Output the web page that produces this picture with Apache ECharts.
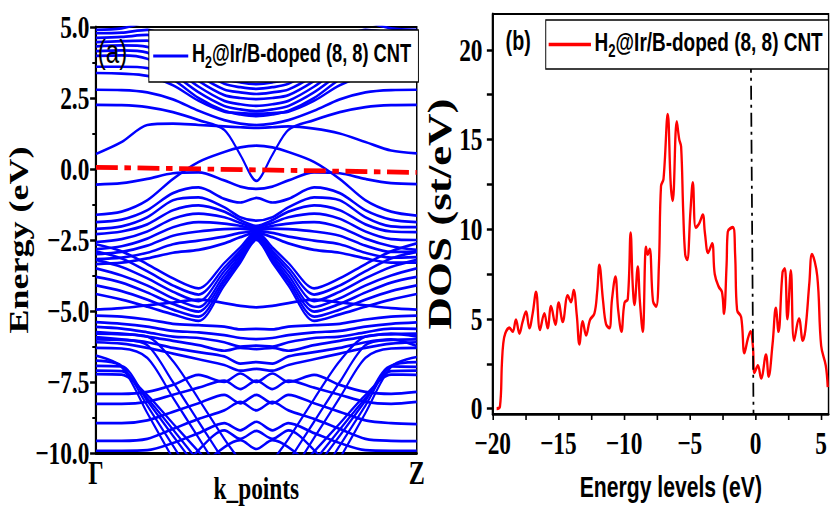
<!DOCTYPE html>
<html><head><meta charset="utf-8">
<script src="https://cdn.jsdelivr.net/npm/echarts@6/dist/echarts.min.js"></script>
<style>
html,body{margin:0;padding:0;width:831px;height:508px;overflow:hidden;background:#fff}
#c{width:1139px;height:508px;transform:scaleX(0.7296);transform-origin:0 0}
</style></head><body><div id="c"></div>
<script>
// ---- panel (a): band structure, k from Γ (0) to Z (1) ----
const kPoints = [0,0.08,0.16,0.24,0.32,0.40,0.45,0.50,0.55,0.60,0.68,0.76,0.84,0.92,1.0];
const kTickLabels = ['Γ','Z'];
const energyTicks = [5.0,2.5,0.0,-2.5,-5.0,-7.5,-10.0];

const conductionBands = [
 [4.9,4.95,5.2,5.5,5.6,5.6,5.6,5.6,5.6,5.6,5.6,5.5,5.2,4.95,4.9],
 [4.78,4.8,4.9,4.5,3.75,3.2,3.05,2.99,3.05,3.2,3.75,4.5,4.9,4.8,4.78],
 [4.62,4.65,4.72,4.25,3.5,3.0,2.88,2.82,2.88,3.0,3.5,4.25,4.72,4.65,4.62],
 [4.47,4.5,4.52,4.0,3.3,2.8,2.7,2.64,2.7,2.8,3.3,4.0,4.52,4.5,4.47],
 [4.32,4.35,4.3,3.75,3.1,2.6,2.5,2.46,2.5,2.6,3.1,3.75,4.3,4.35,4.32],
 [4.15,4.18,4.1,3.55,2.9,2.4,2.28,2.22,2.28,2.4,2.9,3.55,4.1,4.18,4.15],
 [3.98,4.0,3.88,3.35,2.7,2.22,2.1,2.04,2.1,2.22,2.7,3.35,3.88,4.0,3.98],
 [3.6,3.6,3.55,3.15,2.5,2.05,1.92,1.86,1.92,2.05,2.5,3.15,3.55,3.6,3.6],
 [3.38,3.36,3.28,2.95,2.4,2.02,1.97,1.95,1.97,2.02,2.4,2.95,3.28,3.36,3.38],
 [2.79,2.78,2.7,2.45,2.05,1.72,1.6,1.55,1.6,1.72,2.05,2.45,2.7,2.78,2.79],
 [2.26,2.25,2.18,2.0,1.72,1.38,0.5,-0.42,0.5,1.38,1.72,2.0,2.18,2.25,2.26],
 [0.53,0.95,1.55,1.6,1.55,1.5,1.47,1.45,1.47,1.5,1.42,1.25,0.95,0.65,0.55]
];
const nearGapBands = [
 [-1.61,-1.5,-1.1,-0.35,0.25,0.6,0.76,0.82,0.76,0.6,0.25,-0.35,-1.1,-1.5,-1.64],
 [-0.55,-0.5,-0.35,-0.15,-0.12,-0.4,-0.62,-0.7,-0.62,-0.4,-0.12,-0.15,-0.35,-0.5,-0.53],
 [-1.87,-1.78,-1.45,-0.85,-0.65,-1.05,-1.18,-1.02,-1.18,-1.05,-0.65,-0.85,-1.45,-1.78,-1.87],
 [-2.11,-2.02,-1.7,-1.1,-1.0,-1.35,-1.7,-1.82,-1.7,-1.35,-1.0,-1.1,-1.7,-2.02,-2.05],
 [-2.29,-2.2,-1.95,-1.45,-1.28,-1.5,-1.8,-2.0,-1.8,-1.5,-1.28,-1.45,-1.95,-2.2,-2.22],
 [-2.57,-2.47,-2.2,-1.75,-1.57,-1.7,-1.9,-2.05,-1.9,-1.7,-1.57,-1.75,-2.2,-2.47,-2.5],
 [-2.82,-2.72,-2.45,-2.05,-1.87,-1.92,-2.0,-2.1,-2.0,-1.92,-1.87,-2.05,-2.45,-2.72,-2.85],
 [-3.0,-2.92,-2.7,-2.35,-2.2,-2.12,-2.1,-2.15,-2.1,-2.12,-2.2,-2.35,-2.7,-2.92,-2.92],
 [-3.17,-3.12,-2.95,-2.65,-2.52,-2.38,-2.25,-2.2,-2.25,-2.38,-2.52,-2.65,-2.95,-3.12,-3.1],
 [-3.35,-3.3,-3.15,-2.95,-2.85,-2.62,-2.4,-2.25,-2.4,-2.62,-2.85,-2.95,-3.15,-3.3,-3.3]
];
const coneBands = [
 [-2.65,-2.9,-3.35,-3.85,-4.2,-3.31,-2.76,-2.2,-2.76,-3.31,-4.2,-3.85,-3.35,-2.9,-2.62],
 [-2.9,-3.15,-3.6,-4.1,-4.42,-3.47,-2.87,-2.25,-2.87,-3.47,-4.42,-4.1,-3.6,-3.15,-2.92],
 [-3.2,-3.45,-3.85,-4.32,-4.65,-3.6,-2.96,-2.3,-2.96,-3.6,-4.65,-4.32,-3.85,-3.45,-3.2],
 [-3.5,-3.75,-4.1,-4.55,-4.86,-3.74,-3.05,-2.35,-3.05,-3.74,-4.86,-4.55,-4.1,-3.75,-3.5],
 [-3.8,-4.0,-4.35,-4.75,-5.02,-3.87,-3.14,-2.4,-3.14,-3.87,-5.02,-4.75,-4.35,-4.0,-3.8],
 [-4.1,-4.3,-4.6,-4.95,-5.2,-3.98,-3.22,-2.45,-3.22,-3.98,-5.2,-4.95,-4.6,-4.3,-4.1],
 [-4.4,-4.6,-4.85,-5.12,-5.35,-4.1,-3.3,-2.5,-3.3,-4.1,-5.35,-5.12,-4.85,-4.6,-4.4],
 [-4.95,-4.9,-4.8,-4.7,-4.6,-4.72,-4.82,-4.87,-4.82,-4.72,-4.6,-4.7,-4.8,-4.9,-4.95]
];
const deepBands = [
 [-5.16,-5.2,-5.3,-5.45,-5.5,-5.55,-5.65,-5.63,-5.65,-5.55,-5.5,-5.45,-5.3,-5.2,-5.16],
 [-5.39,-5.45,-5.55,-5.7,-5.75,-5.85,-5.95,-5.99,-5.95,-5.85,-5.75,-5.7,-5.55,-5.45,-5.4],
 [-5.56,-5.62,-5.75,-5.9,-5.95,-6.1,-6.25,-6.22,-6.25,-6.1,-5.95,-5.9,-5.75,-5.62,-5.63],
 [-5.74,-5.8,-5.9,-6.05,-6.2,-6.4,-6.3,-6.34,-6.3,-6.4,-6.2,-6.05,-5.9,-5.8,-5.9],
 [-5.92,-6.0,-6.1,-6.3,-6.45,-6.6,-6.85,-6.8,-6.85,-6.6,-6.45,-6.3,-6.1,-6.0,-6.23],
 [-6.1,-6.15,-6.3,-6.5,-6.7,-6.9,-7.1,-7.04,-7.1,-6.9,-6.7,-6.5,-6.3,-6.15,-6.1],
 [-6.57,-6.97,-8.59,-10.2,-11.8,-12,-12,-12,-12,-12,-11.8,-10.2,-8.59,-6.97,-6.62],
 [-6.75,-6.93,-8.33,-9.74,-11.1,-12,-12,-12,-12,-12,-11.1,-9.74,-8.33,-6.93,-6.8],
 [-6.93,-6.95,-8.16,-9.39,-10.6,-11.8,-12,-12,-12,-11.8,-10.6,-9.39,-8.16,-6.95,-6.97],
 [-7.1,-7.12,-8.07,-9.17,-10.3,-11.4,-12,-12,-12,-11.4,-10.3,-9.17,-8.07,-7.12,-7.1],
 [-7.22,-7.24,-7.96,-8.96,-9.95,-10.9,-11.5,-12,-11.5,-10.9,-9.95,-8.96,-7.96,-7.24,-7.25],
 [-6.3,-6.32,-6.65,-8.05,-9.47,-10.9,-11.7,-12,-11.7,-10.9,-9.47,-8.05,-6.65,-6.32,-6.3],
 [-6.0,-6.02,-6.2,-7.5,-8.9,-10.3,-11.2,-12,-11.2,-10.3,-8.9,-7.5,-6.2,-6.02,-6.0],
 [-5.8,-5.82,-5.9,-6.76,-8.1,-9.5,-10.3,-11.2,-10.3,-9.5,-8.1,-6.76,-5.9,-5.82,-5.8],
 [-7.92,-7.92,-7.85,-7.6,-7.25,-7.5,-7.2,-7.5,-7.2,-7.5,-7.25,-7.6,-7.85,-7.92,-7.85],
 [-8.27,-8.27,-8.2,-7.95,-7.7,-7.45,-7.75,-7.45,-7.75,-7.45,-7.7,-7.95,-8.2,-8.27,-8.2],
 [-8.95,-8.95,-8.85,-8.55,-8.25,-7.95,-8.25,-7.95,-8.25,-7.95,-8.25,-8.55,-8.85,-8.95,-8.98],
 [-9.57,-9.57,-9.5,-9.15,-8.8,-8.5,-8.2,-8.5,-8.2,-8.5,-8.8,-9.15,-9.5,-9.57,-9.58],
 [-9.92,-9.92,-9.9,-9.65,-9.3,-8.95,-9.2,-8.9,-9.2,-8.95,-9.3,-9.65,-9.9,-9.92,-9.92],
 [-12,-12,-12,-11,-9.9,-9.2,-9.5,-9.22,-9.5,-9.2,-9.9,-11,-12,-12,-12],
 [-12,-12,-12,-12,-10.6,-9.8,-9.55,-9.86,-9.55,-9.8,-10.6,-12,-12,-12,-12]
];
const fermiBandLine = [[0,0.06],[1,-0.12]];

// ---- panel (b): DOS ----
const dosEnergy = [-19.7,-19.45,-19.3,-19.2,-19.04,-18.73,-18.48,-18.23,-17.97,-17.72,-17.47,-17.21,-16.96,-16.7,-16.4,-16.07,-15.82,-15.56,-15.23,-14.98,-14.67,-14.29,-14.04,-13.84,-13.6,-13.4,-13.15,-12.89,-12.59,-12.26,-12.05,-11.88,-11.6,-11.37,-11.12,-10.92,-10.66,-10.45,-10.2,-9.97,-9.72,-9.5,-9.35,-9.21,-8.96,-8.8,-8.58,-8.33,-8.2,-8.05,-7.8,-7.56,-7.35,-7.19,-7.0,-6.68,-6.45,-6.3,-5.99,-5.8,-5.66,-5.5,-5.35,-5.2,-4.95,-4.77,-4.55,-4.3,-4.01,-3.85,-3.6,-3.3,-3.1,-2.8,-2.55,-2.4,-2.2,-2.11,-1.72,-1.55,-1.4,-1.09,-0.84,-0.58,-0.38,-0.2,-0.07,0.18,0.43,0.8,1.0,1.3,1.55,1.75,2.06,2.23,2.43,2.69,2.94,3.32,3.6,3.8,4.1,4.3,4.7,5.0,5.35,5.5];
const dosValues = [0,0.1,2.5,3.6,4.2,4.5,4.3,4.95,4.2,4.85,5.4,4.5,5.3,6.5,4.4,5.3,4.5,5.7,4.7,5.9,4.85,6.3,5.95,6.6,5.2,3.6,4.85,4.1,4.95,5.3,6.5,8.0,6.0,4.7,4.5,6.1,7.35,5.5,4.3,5.9,6.1,9.8,7.0,5.8,7.9,6.0,4.3,9.0,8.6,8.9,6.0,5.7,8.0,12.4,12.8,16.4,12.5,11.6,16.0,15.0,14.6,11.0,8.6,8.3,11.0,12.6,10.1,10.3,10.8,9.8,8.7,9.2,7.5,6.8,6.5,5.3,8.0,9.85,10.1,8.6,5.5,5.1,3.1,3.9,4.3,3.5,2.0,2.4,1.7,3.0,1.8,3.6,5.6,4.3,7.6,7.8,5.0,7.7,3.8,5.0,3.8,4.4,7.0,8.6,7.4,3.5,2.4,1.2];
const dosXTicks = [-20,-15,-10,-5,0,5];
const dosXMinorTicks = [-20,-17.5,-15,-12.5,-10,-7.5,-5,-2.5,0,2.5,5];
const dosYTicks = [0,5,10,15,20];
const dosYMinorTicks = [0,2.5,5,7.5,10,12.5,15,17.5,20];
const fermiDosLine = [[-0.35,19.5],[-0.15,-0.3]];

const legendText = '{a|H}{s|2}{a|@Ir/B-doped (8, 8) CNT}';
const minus = v => (v < 0 ? '\u2212' : '') + Math.abs(v);

const serif = 'Liberation Serif', sans = 'Liberation Sans';
function bandSeries(b){
  return {type:'line', name:'bands', xAxisIndex:0, yAxisIndex:0,
    data: kPoints.map((k,i)=>[k,b[i]]), symbol:'none', showSymbol:false, smooth:0.3,
    lineStyle:{color:'#0000ff', width:2.7}, itemStyle:{color:'#0000ff'}, silent:true, z:2};
}
const allBands = [].concat(conductionBands, nearGapBands, coneBands, deepBands);
const series = allBands.map(bandSeries);
series.push({type:'line', name:'fermiA', xAxisIndex:0, yAxisIndex:0, data:fermiBandLine, symbol:'none',
  lineStyle:{color:'#ff0000', width:4.8, type:[30,9,9,9]}, silent:true, z:3});
series.push({type:'line', name:'dos', xAxisIndex:1, yAxisIndex:1, data:dosEnergy.map((e,i)=>[e,dosValues[i]]),
  symbol:'none', showSymbol:false, smooth:0.4, lineStyle:{color:'#ff0000', width:3.2}, itemStyle:{color:'#ff0000'}, silent:true, z:2});
series.push({type:'line', name:'fermiB', xAxisIndex:1, yAxisIndex:1, data:fermiDosLine, symbol:'none',
  lineStyle:{color:'#000', width:2.4, type:[14,5,3,5]}, silent:true, z:3});

function legendStyle(fs, sub){
  return {fontFamily:sans, fontWeight:'bold', fontSize:fs, color:'#000',
    rich:{a:{fontFamily:sans, fontWeight:'bold', fontSize:fs, color:'#000', verticalAlign:'bottom', padding:[0,0,5,0]},
          s:{fontFamily:sans, fontWeight:'bold', fontSize:sub, color:'#000', verticalAlign:'bottom'}}};
}
const titleSerif = fs => ({fontFamily:serif, fontWeight:'bold', fontSize:fs, color:'#000'});

const chart = echarts.init(document.getElementById('c'), null, {renderer:'svg'});
chart.setOption({
  animation:false,
  backgroundColor:'#fff',
  grid:[
    {left:131.5, top:27, width:439.7, height:426, show:true, borderColor:'#000', borderWidth:2, backgroundColor:'transparent', containLabel:false, outerBoundsMode:'none'},
    {left:675.3, top:14, width:460.3, height:400, show:true, borderColor:'#000', borderWidth:2, backgroundColor:'transparent', containLabel:false, outerBoundsMode:'none'}
  ],
  xAxis:[
    {gridIndex:0, type:'value', min:0, max:1,
     axisLine:{onZero:false, lineStyle:{color:'#000', width:3}}, axisTick:{show:false}, splitLine:{show:false},
     axisLabel:{customValues:[0,1], formatter:v=> v===0?kTickLabels[0]:kTickLabels[1], ...titleSerif(33), margin:3},
     name:'k_points', nameLocation:'middle', nameGap:19, nameMoveOverlap:false, nameTextStyle:titleSerif(32)},
    {gridIndex:1, type:'value', min:-20, max:5.56,
     axisLine:{onZero:false, lineStyle:{color:'#000', width:2.5}},
     axisTick:{customValues:dosXMinorTicks, inside:false, length:6, lineStyle:{color:'#000', width:2.2}},
     axisLabel:{customValues:dosXTicks, formatter:minus, ...titleSerif(32), margin:13},
     splitLine:{show:false},
     name:'Energy levels (eV)', nameLocation:'middle', nameGap:58, nameMoveOverlap:false,
     nameTextStyle:{fontFamily:sans, fontWeight:'bold', fontSize:29, color:'#000', padding:[0,0,0,28]}}
  ],
  yAxis:[
    {gridIndex:0, type:'value', min:-10, max:5, interval:2.5,
     axisLine:{show:true, onZero:false, lineStyle:{color:'#000', width:3}},
     axisTick:{inside:false, length:8, lineStyle:{color:'#000', width:2.5}},
     minorTick:{show:true, splitNumber:2, length:5, lineStyle:{color:'#000', width:2}},
     axisLabel:{formatter:v=>(v<0?'\u2212':'')+Math.abs(v).toFixed(1), ...titleSerif(32), margin:9},
     splitLine:{show:false},
     name:'Energy (eV)', nameLocation:'middle', nameRotate:90, nameGap:74, nameTextStyle:titleSerif(36)},
    {gridIndex:1, type:'value', min:-0.3, max:22,
     axisLine:{show:true, onZero:false, lineStyle:{color:'#000', width:3}},
     axisTick:{customValues:dosYMinorTicks, inside:false, length:8, lineStyle:{color:'#000', width:2.5}},
     axisLabel:{customValues:dosYTicks, formatter:v=>String(v), ...titleSerif(32), margin:14},
     splitLine:{show:false},
     name:'DOS (st/eV)', nameLocation:'middle', nameRotate:90, nameGap:44, nameTextStyle:titleSerif(45)}
  ],
  legend:[
    {data:['bands'], left:204, top:30, padding:[11,10,11,6], backgroundColor:'#fff', borderColor:'#000', borderWidth:1.3,
     icon:'rect', itemWidth:48, itemHeight:3, selectedMode:false, formatter:()=>legendText, textStyle:legendStyle(25,17), z:6},
    {data:['dos'], left:748, top:20, padding:[9,8,9,4], backgroundColor:'#fff', borderColor:'#000', borderWidth:1.3,
     icon:'rect', itemWidth:58, itemHeight:3.5, selectedMode:false, formatter:()=>legendText, textStyle:legendStyle(26,18), z:6}
  ],
  graphic:[
    {type:'text', x:134, y:52, z:10, style:{text:'(a)', font:'33px "Liberation Sans"', fill:'#000', textVerticalAlign:'middle', verticalAlign:'middle'}},
    {type:'text', x:693, y:41, z:10, style:{text:'(b)', font:'bold 27px "Liberation Sans"', fill:'#000', textVerticalAlign:'middle', verticalAlign:'middle'}}
  ],
  series
});
</script></body></html>
